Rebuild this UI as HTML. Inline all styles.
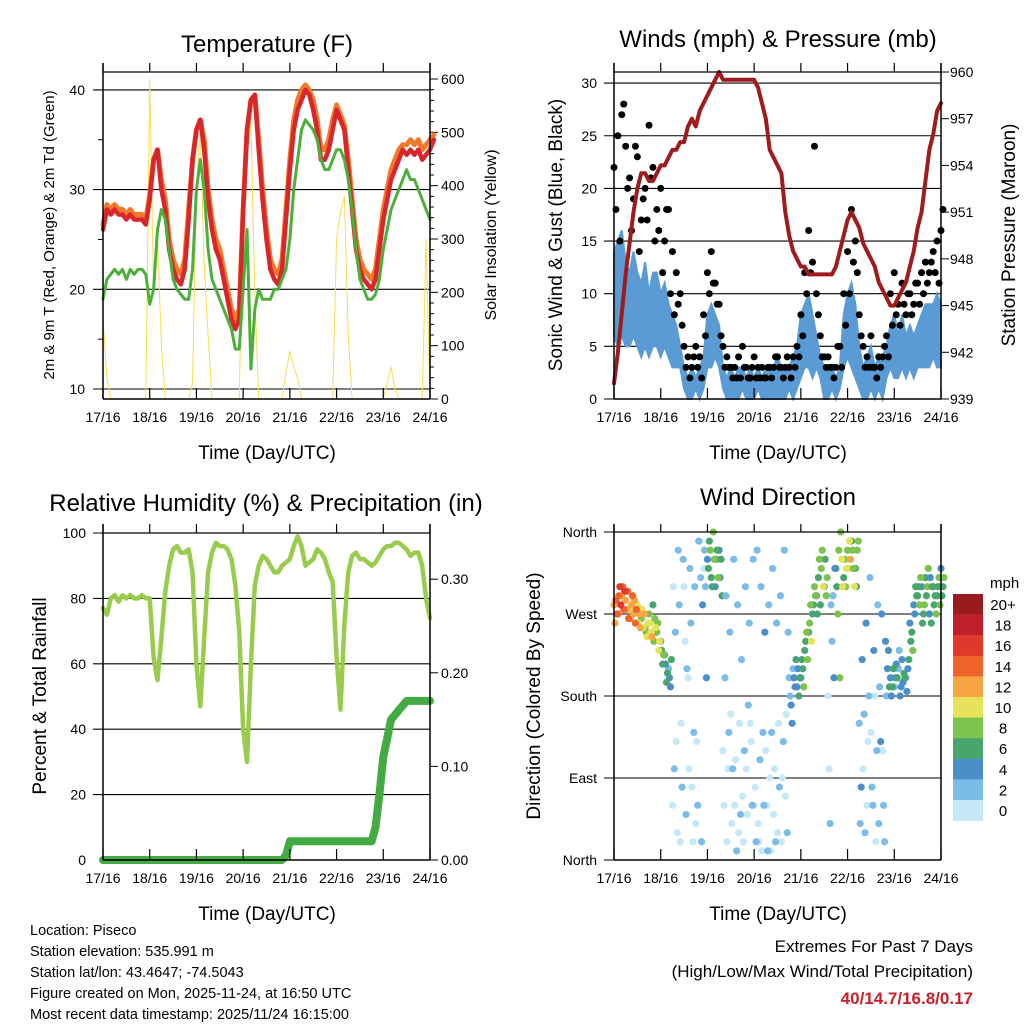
<!DOCTYPE html>
<html><head><meta charset="utf-8"><style>
body{margin:0;background:#fff}
svg{display:block;font-family:"Liberation Sans",sans-serif}
</style></head><body>
<svg id="s" width="1024" height="1024" viewBox="0 0 1024 1024">
<rect width="1024" height="1024" fill="#fff"/>
<g id="g1"></g>
<g id="g2"></g>
<g id="g3"></g>
<g id="g4"></g>
<text x="267" y="52" font-size="24" text-anchor="middle">Temperature (F)</text>
<text x="778" y="47" font-size="24" text-anchor="middle">Winds (mph) &amp; Pressure (mb)</text>
<text x="266" y="511" font-size="24" text-anchor="middle">Relative Humidity (%) &amp; Precipitation (in)</text>
<text x="778" y="505" font-size="24" text-anchor="middle">Wind Direction</text>
<text x="267" y="459" font-size="19" text-anchor="middle">Time (Day/UTC)</text>
<text x="778" y="459" font-size="19" text-anchor="middle">Time (Day/UTC)</text>
<text x="267" y="920" font-size="19" text-anchor="middle">Time (Day/UTC)</text>
<text x="778" y="920" font-size="19" text-anchor="middle">Time (Day/UTC)</text>
<text transform="translate(54,235) rotate(-90)" font-size="15" text-anchor="middle">2m &amp; 9m T (Red, Orange) &amp; 2m Td (Green)</text>
<text transform="translate(496,235) rotate(-90)" font-size="16" text-anchor="middle">Solar Insolation (Yellow)</text>
<text transform="translate(562,235) rotate(-90)" font-size="19" text-anchor="middle">Sonic Wind &amp; Gust (Blue, Black)</text>
<text transform="translate(1015,235) rotate(-90)" font-size="19" text-anchor="middle">Station Pressure (Maroon)</text>
<text transform="translate(46,696) rotate(-90)" font-size="19" text-anchor="middle">Percent &amp; Total Rainfall</text>
<text transform="translate(540,696) rotate(-90)" font-size="19" text-anchor="middle">Direction (Colored By Speed)</text>
<g font-size="14.5">
<text x="30" y="935">Location: Piseco</text>
<text x="30" y="956">Station elevation: 535.991 m</text>
<text x="30" y="977">Station lat/lon: 43.4647; -74.5043</text>
<text x="30" y="998">Figure created on Mon, 2025-11-24, at 16:50 UTC</text>
<text x="30" y="1019">Most recent data timestamp: 2025/11/24 16:15:00</text>
</g>
<text x="973" y="952" font-size="17" text-anchor="end">Extremes For Past 7 Days</text>
<text x="973" y="977" font-size="17" text-anchor="end">(High/Low/Max Wind/Total Precipitation)</text>
<text x="973" y="1004" font-size="17" font-weight="bold" fill="#c8202a" text-anchor="end">40/14.7/16.8/0.17</text>
<text x="990" y="588" font-size="15">mph</text>
<g id="leg"></g>
</svg>
<script>
const dayLabels=["17/16","18/16","19/16","20/16","21/16","22/16","23/16","24/16"];
// 2-hourly series, hour 0..168
const tRed=[26,28,27.5,28,27.5,27.5,27,27.5,27,27,27,26.5,29,33,34,30,28,24,22,21,20.5,22,27,33,36,37,34,29,26,24,23,21,19,17,16,17,28,36,39,39.5,34,29,25,22,21,20.5,22,27,32,36,38,39,40,39.5,38,36,33,33,34,36,38,37,36,32,28,24,22,21,20.5,20,21,24,27,29,31,32,33,34,33.5,34,33.5,34,33,33.5,34,35];
const tOrange=[26.5,28.5,28,28.5,28,28,27.5,28,27.5,27.5,27.5,27,29.5,33,34,31,29,25,23,22,21.5,23,28,33,36,37,35,30,27,25,24,22,20,18,17,18,28,36,39,39.5,35,30,26,23,22,21.5,23,28,33,37,39,40,40.5,40,39,37,34,34,35,37,38.5,37.5,36.5,33,29,25,23,22,21.5,21,22,25,28,30,32,33,34,34.5,34.5,35,34.5,35,34,34.5,35,35.5];
const tDew=[19,21,21.5,22,21.5,22,21,22,21.5,22,22,21.5,18.5,20,26,28,27,24,21,20,19.5,19,19,22,30,33,30,24,21,20,19,18,17,16,14,14,20,26,12,18,20,19,19,19,20,20,21,22,25,30,33,36,37,36.5,36,35,33,32,32,33,34,34,33,31,28,24,21,20,19,19,19.5,21,24,26,28,29,30,31,32,31,31,30,29,28,27];
const solar=[150,40,0,0,0,0,0,0,0,0,0,0,600,200,300,100,0,0,0,0,0,0,0,30,400,500,250,120,0,0,0,0,0,0,0,0,380,450,520,200,0,0,0,0,0,0,0,50,90,60,40,0,0,0,0,0,0,0,0,0,300,350,380,120,0,0,0,0,0,0,0,0,0,30,60,20,0,0,0,0,0,0,0,300,0];
const pres=[940,942,944.5,947,949,951,952.5,953.5,953.5,953,953,953.5,954,954,954.5,955,955,955.5,955.5,956.5,957,956.5,957.5,958,958.5,959,959.5,960,959.5,959.5,959.5,959.5,959.5,959.5,959.5,959.5,959.5,959,958,957,955,954.5,954,953.5,951,949.5,948.5,948,947.5,947.5,947,947,947,947,947,947,947,947.5,948.5,949.5,950.5,951,950.5,950,949,948.5,948,947.5,946.5,946,945.5,945,945,945.5,946,946.5,947.5,948.5,950,951,953,955,956,957.5,958];
const windLo=[6,5,6,5,5,6,5,4,5,4,5,5,4,5,4,3,3,3,1,0,0,1,0,1,3,3,4,3,1,0,0,0,0,1,0,0,0,1,0,0,0,0,0,0,0,1,0,1,2,3,3,2,3,2,0,0,1,0,1,3,4,3,2,1,0,0,1,0,1,0,2,3,2,2,3,2,3,2,3,3,3,3,4,3,3];
const windHi=[14,15,16,13,12,14,12,11,13,10,12,12,10,11,9,8,7,5,3,2,3,2,3,4,8,9,8,7,3,2,3,2,3,3,2,3,2,3,2,3,3,3,4,3,3,3,4,5,8,9,10,8,6,4,3,3,3,2,3,8,10,11,9,5,3,4,5,3,4,4,5,7,8,6,8,6,7,6,7,8,9,9,9,10,9];
const gustA=[22,25,27,24,21,19,23,17,20,26,22,18,20,15,18,14,12,10,5,4,3,5,4,8,12,14,11,9,5,4,3,3,4,5,3,2,4,3,3,2,3,3,4,3,3,3,4,5,8,12,16,13,10,6,4,4,3,3,5,10,14,18,15,8,5,4,6,3,4,4,6,10,12,9,11,8,10,9,11,12,13,12,14,15,16];
const gustB=[18,15,28,20,16,24,14,19,17,21,15,16,12,18,10,8,9,7,3,2,4,3,2,6,10,11,9,6,3,3,2,2,2,3,2,3,2,2,2,3,2,4,3,2,4,2,3,4,6,10,12,24,8,4,3,3,2,5,3,7,10,13,12,6,3,3,3,2,3,5,4,7,8,7,9,10,8,11,9,10,11,13,12,11,18];
const dir1=[280,270,290,285,275,270,280,265,255,270,280,250,240,225,210,60,130,20,300,200,80,40,350,320,330,310,300,340,120,20,160,60,30,70,100,150,60,40,10,120,90,50,30,20,70,200,210,190,200,230,250,270,290,280,300,180,240,320,200,310,340,350,320,150,100,60,140,180,40,120,180,200,190,210,220,200,260,280,290,300,310,270,300,290,320];
const dir2=[260,290,300,275,265,285,260,275,250,260,240,260,230,215,200,300,30,150,240,100,20,130,310,340,320,300,330,310,60,100,40,110,150,20,50,130,80,20,140,60,10,100,150,90,160,180,200,210,220,240,260,280,270,320,330,100,290,300,360,330,320,340,300,40,160,130,80,20,190,60,210,180,200,230,195,185,240,270,300,260,290,310,280,300,290];
const dir3=[285,300,275,295,280,260,270,255,245,250,265,230,215,195,190,100,340,80,50,320,140,60,20,300,350,360,340,330,200,140,100,10,50,120,170,60,20,110,60,10,140,20,80,130,30,170,190,180,210,250,280,300,310,340,290,40,200,270,330,300,350,320,340,80,30,180,60,120,130,20,230,190,215,180,205,210,250,300,280,270,300,260,290,310,300];
const dir4=[270,280,295,265,290,275,255,270,260,245,255,240,225,205,220,250,280,330,210,260,300,350,280,200,340,330,310,290,290,250,330,280,220,300,260,330,340,300,250,280,320,260,290,340,250,150,220,200,190,220,240,290,330,300,310,280,320,340,300,320,330,300,350,220,260,310,230,280,270,240,190,210,200,190,200,220,230,290,310,280,320,300,270,280,310];
const spdA=[13,15,14,13,12,13,11,10,9,10,8,9,6,5,4,1,1,1,1,1,1,1,2,2,6,7,6,5,1,1,1,1,1,1,1,1,1,1,2,1,1,1,1,1,1,3,4,5,6,7,8,7,6,8,7,1,3,7,9,8,10,8,7,3,2,1,2,1,3,2,4,5,4,3,5,4,6,5,7,6,7,5,6,7,6];
const rh=[77,75,80,81,79,81,80,81,80,80,81,80,80,62,55,68,82,90,95,96,94,94,95,88,60,47,68,88,94,97,96,96,95,92,84,70,40,30,60,84,90,93,92,90,88,88,90,91,92,96,99,96,90,91,92,95,94,92,88,85,62,46,72,88,93,94,92,92,91,90,91,93,95,96,96,97,97,96,95,93,94,94,90,80,74];
const precip=[0,0,0,0,0,0,0,0,0,0,0,0,0,0,0,0,0,0,0,0,0,0,0,0,0,0,0,0,0,0,0,0,0,0,0,0,0,0,0,0,0,0,0,0,0,0,0,0.005,0.02,0.02,0.02,0.02,0.02,0.02,0.02,0.02,0.02,0.02,0.02,0.02,0.02,0.02,0.02,0.02,0.02,0.02,0.02,0.02,0.02,0.02,0.035,0.07,0.11,0.13,0.15,0.155,0.16,0.165,0.17,0.17,0.17,0.17,0.17,0.17,0.17];
const spdLevels=["0","2","4","6","8","10","12","14","16","18","20+"];
const spdColors=["#c5e8f8","#7cbde8","#4a8fc8","#48a56e","#7dc24a","#e6e25a","#f7a445","#f0632b","#e0382a","#c0202a","#981b1e"];

const NS="http://www.w3.org/2000/svg";
function mk(p,tag,at,name){const e=document.createElementNS(NS,tag);for(const k in at)e.setAttribute(k,at[k]);


p.appendChild(e);return e;}
function txt(p,x,y,s,anchor,size,name){const e=mk(p,'text',{x:x,y:y,'text-anchor':anchor,'font-size':size},name);e.textContent=s;return e;}
function colorFor(s){let i=Math.min(10,Math.max(0,Math.round(s/2)));return spdColors[i];}

function frame(g,L,R,T,B,boxTop){
  mk(g,'line',{x1:L,y1:T,x2:L,y2:B,stroke:'#000','stroke-width':1.5},'left-axis');
  mk(g,'line',{x1:R,y1:T,x2:R,y2:B,stroke:'#000','stroke-width':1.5},'right-axis');
  mk(g,'line',{x1:L,y1:B,x2:R,y2:B,stroke:'#000','stroke-width':1.5},'x-axis');
  mk(g,'line',{x1:L,y1:boxTop,x2:R,y2:boxTop,stroke:'#000','stroke-width':1.2},'top-border');
  for(let d=0;d<8;d++){const x=L+d*(R-L)/7;
    mk(g,'line',{x1:x,y1:B,x2:x,y2:B-11,stroke:'#000','stroke-width':1.2},'x-tick');
    mk(g,'line',{x1:x,y1:T,x2:x,y2:boxTop,stroke:'#000','stroke-width':1.2},'x-top-tick');
    txt(g,x,B+23,dayLabels[d],'middle',14,'x-tick-label');}
}
function hgrid(g,L,R,y,len){mk(g,'line',{x1:L-len,y1:y,x2:R,y2:y,stroke:'#000','stroke-width':1.1},'gridline');}
function poly(g,pts,col,w,name){mk(g,'polyline',{points:pts.join(' '),fill:'none',stroke:col,'stroke-width':w,'stroke-linejoin':'round','stroke-linecap':'round'},name);}

// Panel 1
(function(){const g=document.getElementById('g1');const L=103,R=430,T=63,B=399,BT=72;
 const X=h=>L+h*(R-L)/168, Y=v=>389-(v-10)*9.97, YS=v=>399-v*(320/600);
 for(let v=10;v<=40;v+=10){hgrid(g,L,R,Y(v),10);txt(g,85,Y(v)+5,String(v),'end',14,'temp-tick-label');}
 for(let v=15;v<=40;v+=10)mk(g,'line',{x1:L-5,y1:Y(v),x2:L,y2:Y(v),stroke:'#000'},'minor-tick');
 for(let v=0;v<=600;v+=100){mk(g,'line',{x1:R,y1:YS(v),x2:R+8,y2:YS(v),stroke:'#000'},'solar-tick');txt(g,441,YS(v)+5,String(v),'start',14,'solar-tick-label');}
 for(let v=20;v<600;v+=20)if(v%100)mk(g,'line',{x1:R,y1:YS(v),x2:R+4,y2:YS(v),stroke:'#000'},'solar-minor-tick');
 poly(g,solar.map((v,i)=>X(i*2)+','+YS(v)),'#f7dd50',1,'solar-line');
 poly(g,tOrange.map((v,i)=>X(i*2)+','+Y(v)),'#f07a2a',5,'temp-2m-line');
 poly(g,tRed.map((v,i)=>X(i*2)+','+Y(v)),'#d8262a',4.5,'temp-9m-line');
 poly(g,tDew.map((v,i)=>X(i*2)+','+Y(v)),'#4caf3a',3,'dewpoint-line');
 frame(g,L,R,T,B,BT);
})();
// Panel 2
(function(){const g=document.getElementById('g2');const L=614,R=941,T=63,B=399,BT=72;
 const X=h=>L+h*(R-L)/168, Y=v=>399-v*10.53, YP=v=>399-(v-939)*(327/21);
 for(let v=0;v<=30;v+=5){if(v>0)hgrid(g,L,R,Y(v),10);else mk(g,'line',{x1:L-10,y1:Y(0),x2:L,y2:Y(0),stroke:'#000'},'tick');txt(g,597,Y(v)+5,String(v),'end',14,'wind-tick-label');}
 for(let v=939;v<=960;v+=3){mk(g,'line',{x1:R,y1:YP(v),x2:R+8,y2:YP(v),stroke:'#000'},'pressure-tick');txt(g,950,YP(v)+5,String(v),'start',14,'pressure-tick-label');}
 const band=windHi.map((v,i)=>X(i*2)+','+Y(v)).concat(windLo.map((v,i)=>X(i*2)+','+Y(v)).reverse());
 mk(g,'polygon',{points:band.join(' '),fill:'#5b9bd5',stroke:'#5b9bd5','stroke-width':2},'sustained-wind-band');
 gustA.forEach((v,i)=>{mk(g,'circle',{cx:X(i*2),cy:Y(v),r:3.5,fill:'#000'},'gust-point');});
 gustB.forEach((v,i)=>{mk(g,'circle',{cx:X(i*2+1),cy:Y(v),r:3.5,fill:'#000'},'gust-point');});
 poly(g,pres.map((v,i)=>X(i*2)+','+YP(v)),'#a01c1c',4,'pressure-line');
 frame(g,L,R,T,B,BT);
})();
// Panel 3
(function(){const g=document.getElementById('g3');const L=103,R=430,T=524,B=860,BT=533;
 const X=h=>L+h*(R-L)/168, Y=v=>860-v*3.27, YR=v=>860-v*936;
 for(let v=0;v<=100;v+=20){if(v>0)hgrid(g,L,R,Y(v),10);txt(g,86,Y(v)+5,String(v),'end',14,'rh-tick-label');}
 ["0.00","0.10","0.20","0.30"].forEach((s,i)=>{const y=YR(i*0.1);mk(g,'line',{x1:R,y1:y,x2:R+8,y2:y,stroke:'#000'},'precip-tick');txt(g,441,y+5,s,'start',14,'precip-tick-label');});
 poly(g,rh.map((v,i)=>X(i*2)+','+Y(v)),'#99cc4c',4.5,'rh-line');
 poly(g,precip.map((v,i)=>X(i*2)+','+YR(v)),'#44aa44',8,'precip-line');
 frame(g,L,R,T,B,BT);
})();
// Panel 4
(function(){const g=document.getElementById('g4');const L=614,R=941,T=524,B=860,BT=532;
 const X=h=>L+h*(R-L)/168, Y=d=>860-d*328/360;
 ["North","East","South","West","North"].forEach((s,i)=>{const y=Y(i*90);if(i>0&&i<4)hgrid(g,L,R,y,10);else mk(g,'line',{x1:L-10,y1:y,x2:L,y2:y,stroke:'#000'},'tick');txt(g,597,y+5,s,'end',14,'direction-tick-label');});
 const sets=[dir1,dir2,dir3,dir4];
 sets.forEach((arr,k)=>arr.forEach((d,i)=>{const s=spdA[i]+(k-1.5)*0.8;mk(g,'circle',{cx:X(i*2+k*0.5),cy:Y(d),r:3.6,fill:colorFor(s)},'direction-point');}));
 frame(g,L,R,T,B,BT);
 const lg=document.getElementById('leg');
 for(let i=0;i<11;i++){const y=594+i*20.6;mk(lg,'rect',{x:953,y:y,width:30,height:20.8,fill:spdColors[10-i]},'colorbar-box');txt(lg,1003,y+16,spdLevels[10-i],'middle',15,'colorbar-label');}
})();
</script>
</body></html>
